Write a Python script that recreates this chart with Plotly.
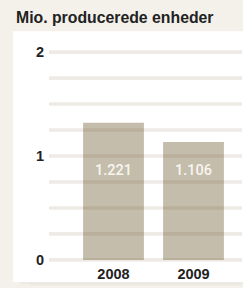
import plotly.graph_objects as go

# ---- data ----
years = ["2008", "2009"]
bar_heights = [1.32, 1.135]          # bar heights as drawn in the picture
bar_labels = ["1.221", "1.106"]      # printed values
y_tick_vals = [0, 1, 2]
grid_vals = [0, 0.25, 0.5, 0.75, 1, 1.25, 1.5, 1.75, 2]
title_text = "Mio. producerede enheder"

W, H = 243, 288
L, R = 49, 1
y0_px, y2_px = 259.5, 52.5
unit = (y0_px - y2_px) / 2
pad = 0.03
top_px = y2_px - pad * unit
bot_px = y0_px + pad * unit
T, B = top_px, H - bot_px
plot_w = W - L - R
plot_h = bot_px - top_px

def px_x(p):
    return (p - L) / plot_w

def px_y(p):
    return (bot_px - p) / plot_h

fig = go.Figure()
fig.add_trace(go.Bar(
    x=years, y=bar_heights, width=0.76,
    marker=dict(color="#c5bdab", line=dict(width=0)),
    hoverinfo="skip",
))

shapes = []
# white panel
shapes.append(dict(type="rect", xref="paper", yref="paper",
                   x0=px_x(13), x1=px_x(244), y0=px_y(281.7), y1=px_y(31.7),
                   fillcolor="white", line=dict(width=0), layer="below"))
# faint bottom shadow
shapes.append(dict(type="rect", xref="paper", yref="paper",
                   x0=px_x(20), x1=px_x(244), y0=px_y(283.3), y1=px_y(281.7),
                   fillcolor="rgba(0,0,0,0.05)", line=dict(width=0), layer="below"))
shapes.append(dict(type="rect", xref="paper", yref="paper",
                   x0=px_x(30), x1=px_x(244), y0=px_y(285), y1=px_y(283.3),
                   fillcolor="rgba(0,0,0,0.025)", line=dict(width=0), layer="below"))
# grid lines drawn above bars (multiply-like look)
for v in grid_vals:
    shapes.append(dict(type="line", xref="paper", yref="y",
                       x0=0, x1=px_x(242), y0=v, y1=v,
                       line=dict(color="rgba(90,60,20,0.10)", width=3.6),
                       layer="above"))

annotations = [dict(text="<b>" + title_text + "</b>", xref="paper", yref="paper",
                    x=px_x(14), y=px_y(18), xanchor="left", yanchor="middle",
                    showarrow=False, font=dict(size=15.8, color="#222222"))]
for i, lab in enumerate(bar_labels):
    annotations.append(dict(text=lab, x=i, y=0.865, xref="x", yref="y",
                            showarrow=False, xanchor="center", yanchor="middle",
                            font=dict(size=14.5, color="#f7f5f0",
                                      family="Roboto, Liberation Sans, sans-serif",
                                      weight=500)))

fig.update_layout(
    width=W, height=H,
    margin=dict(l=L, r=R, t=T, b=B, pad=0, autoexpand=False),
    paper_bgcolor="#f4f1eb",
    plot_bgcolor="white",
    font=dict(family="Liberation Sans, Arial, sans-serif", color="#222222"),
    showlegend=False,
    shapes=shapes,
    annotations=annotations,
    xaxis=dict(type="category", categoryorder="array", categoryarray=years,
               range=[-0.806, 1.606], showgrid=False, zeroline=False, automargin=False,
               showline=False, ticks="", tickfont=dict(size=14.5, color="#222222", weight="bold"),
               fixedrange=True),
    yaxis=dict(range=[-pad, 2 + pad], tickvals=y_tick_vals, showgrid=False, automargin=False,
               zeroline=False, showline=False, ticks="", ticklabelstandoff=4,
               tickfont=dict(size=14.5, color="#222222", weight="bold"),
               fixedrange=True),
)

fig.write_html("out.html", config={"displayModeBar": False},
               post_script="document.body.style.margin='0';document.body.style.background='#f4f1eb';")
